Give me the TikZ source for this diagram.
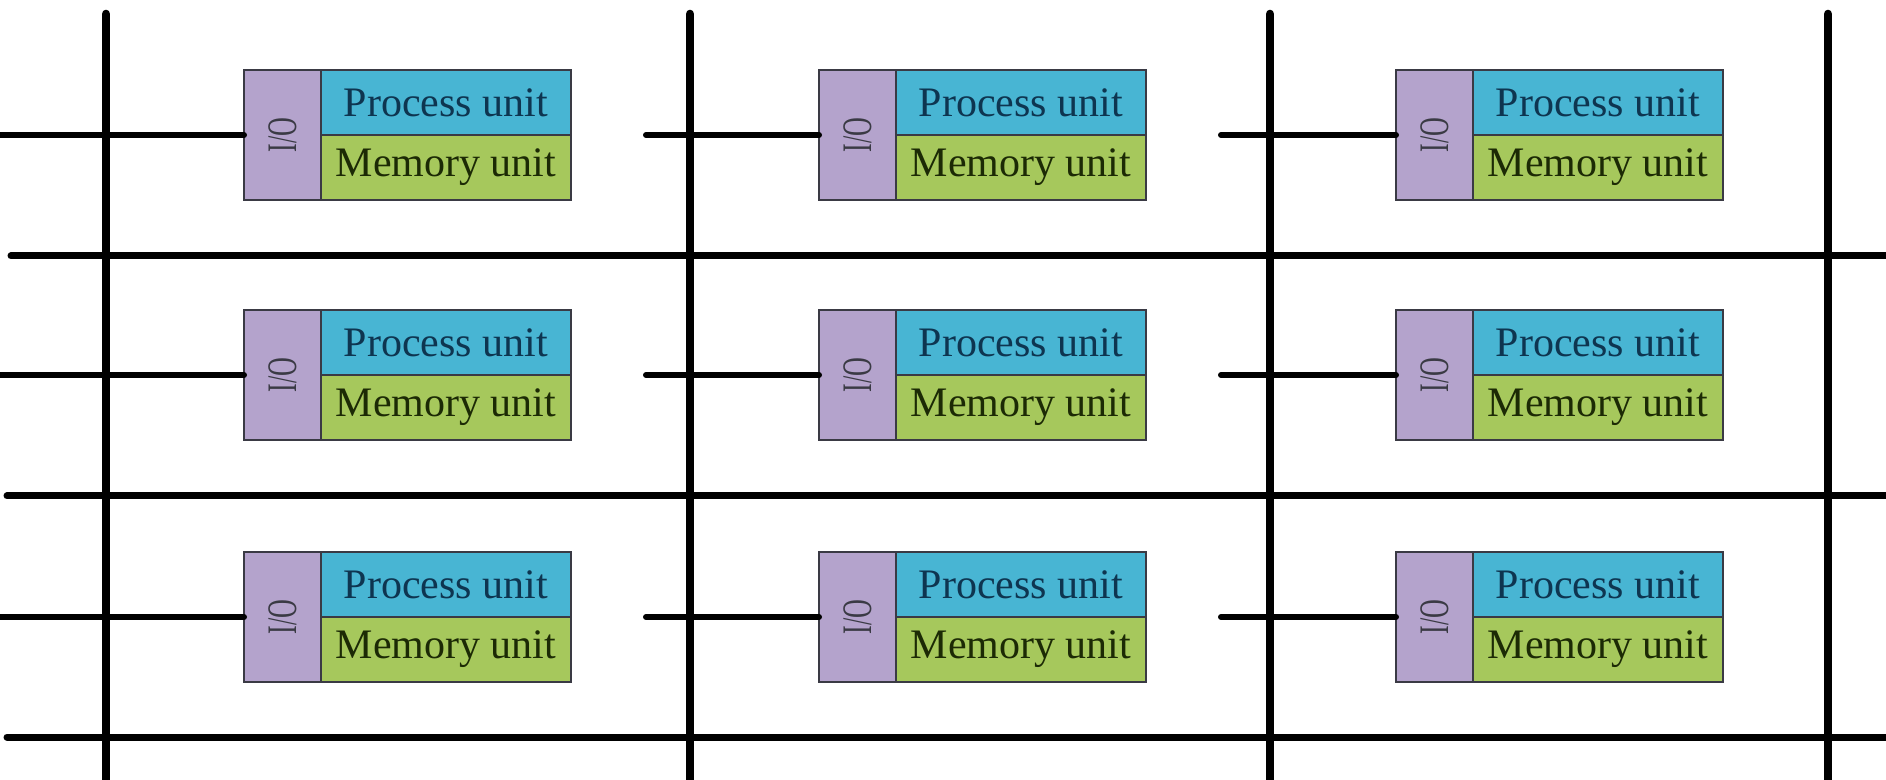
\documentclass[tikz,border=0pt]{standalone}
\usepackage{fontspec}
\setmainfont{Liberation Serif}
\definecolor{iofill}{HTML}{B4A3CC}
\definecolor{pufill}{HTML}{48B5D3}
\definecolor{mufill}{HTML}{A6C85C}
\definecolor{boxline}{HTML}{3A3A44}
\definecolor{putext}{HTML}{0E3550}
\definecolor{mutext}{HTML}{1C2A05}
\tikzset{
  bus/.style={line width=4.3pt, black, line cap=round},
  hbus/.style={line width=3.5pt, black, line cap=round},
  link/.style={line width=3pt, black, line cap=round},
  cell/.style={draw=boxline, line width=1.3pt, inner sep=0pt, outer sep=0pt, anchor=north west, font=\fontsize{21}{25}\selectfont},
  iobox/.style={cell, fill=iofill, minimum width=38.5pt, minimum height=65pt, text=boxline},
  pubox/.style={cell, fill=pufill, minimum width=125pt, minimum height=32.5pt, text=putext},
  mubox/.style={cell, fill=mufill, minimum width=125pt, minimum height=32.5pt, text=mutext},
}
\begin{document}
\begin{tikzpicture}[x=0.5pt,y=-0.5pt]
\useasboundingbox (0,0) rectangle (1886,780);
% vertical buses
\foreach \i/\x in {1/106,2/690,3/1270,4/1828}{
  \coordinate (vt\i) at (\x,14);
  \coordinate (vb\i) at (\x,790);
  \draw[bus] (vt\i) -- (vb\i);
}
% horizontal buses
\foreach \i/\y/\s in {1/256/11,2/496/7,3/737/7}{
  \coordinate (hl\i) at (\s,\y);
  \coordinate (hr\i) at (1896,\y);
  \draw[hbus] (hl\i) -- (hr\i);
}
% processing elements
\foreach \r/\t in {1/70,2/310,3/552}{
  \foreach \c/\l/\s in {1/244/-10,2/819/646,3/1396/1221}{
    \node[iobox] (io\r\c) at (\l,\t) {\rotatebox{90}{\scalebox{0.62}[1]{I/O}}};
    \node[pubox] (pu\r\c) at (io\r\c.north east) {Process unit};
    \node[mubox] (mu\r\c) at (pu\r\c.south west) {Memory unit};
    \coordinate (ls\r\c) at (\s,\t+65);
    \draw[link] (ls\r\c) -- (io\r\c.west);
  }
}
\end{tikzpicture}
\end{document}
